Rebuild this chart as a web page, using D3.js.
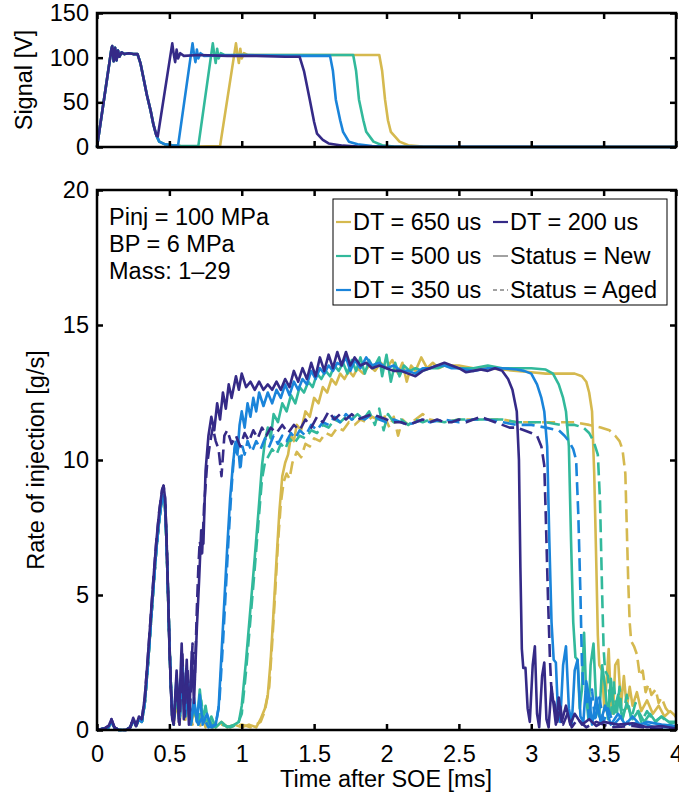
<!DOCTYPE html>
<html>
<head>
<meta charset="utf-8">
<script src="https://cdnjs.cloudflare.com/ajax/libs/d3/7.8.5/d3.min.js"></script>
<style>
body { margin: 0; background: #fff; }
text { font-family: "Liberation Sans", Arial, Helvetica, sans-serif; }
</style>
</head>
<body>
<svg width="679" height="799"></svg>
<script>
// legend / series categories
var dtLabels = ["DT = 650 us", "DT = 500 us", "DT = 350 us", "DT = 200 us"];
var statusLabels = ["Status = New", "Status = Aged"];
var notes = ["Pinj = 100 MPa", "BP = 6 MPa", "Mass: 1\u201329"];

var xTicks = [0, 0.5, 1, 1.5, 2, 2.5, 3, 3.5, 4];
var sigTicks = [0, 50, 100, 150];
var rateTicks = [0, 5, 10, 15, 20];

// top panel: injector signal [V], [t in ms, value]
var sigPilot = [[0,0],[0.1,110],[0.105,113],[0.115,96],[0.125,111],[0.135,97],[0.145,108],[0.155,101],[0.17,106],[0.19,104],[0.22,105],[0.25,104],[0.28,104],[0.3,94],[0.32,78],[0.345,58],[0.37,41],[0.39,25],[0.41,13]];
var sig650 = [[0.43,6],[0.47,3],[0.52,2],[0.58,1],[0.70,0.5],[0.85,1],[0.96,116],[0.97,104],[0.98,94],[0.99,110],[1.0,99],[1.015,105],[1.04,103],[1.4,103],[1.7,103],[1.95,103],[1.97,85],[1.99,53],[2.01,30],[2.03,17],[2.09,6],[2.15,2],[2.25,0.5],[2.4,0],[4,0]];
var sig500 = [[0.43,6],[0.47,3],[0.52,2],[0.58,1],[0.70,1],[0.80,116],[0.81,104],[0.82,94],[0.83,110],[0.84,99],[0.855,105],[0.88,103],[1.2,103],[1.5,103],[1.77,103],[1.79,85],[1.81,53],[1.84,30],[1.86,17],[1.91,6],[1.97,2],[2.05,0.5],[2.2,0],[4,0]];
var sig350 = [[0.43,6],[0.47,3],[0.52,2],[0.56,1.5],[0.66,116],[0.67,104],[0.68,95],[0.69,109],[0.7,99],[0.715,105],[0.74,102],[1.0,103],[1.3,102],[1.61,102],[1.63,85],[1.65,53],[1.68,30],[1.7,17],[1.74,6],[1.8,3],[1.9,1],[2.0,0.3],[4,0]];
var sig200 = [[0.42,12],[0.52,116],[0.53,104],[0.54,95],[0.55,109],[0.56,99],[0.575,105],[0.6,102],[0.7,103],[0.9,102],[1.1,102],[1.3,101],[1.4,101],[1.43,85],[1.47,53],[1.5,28],[1.52,15],[1.56,8],[1.6,4],[1.7,1.5],[1.8,0.5],[2,0],[4,0]];

// bottom panel: rate of injection [g/s], pilot part first
var pilotA = [[0,0],[0.05,0.05],[0.08,0.15],[0.1,0.4],[0.12,0.1],[0.15,0],[0.2,0],[0.23,0.1],[0.25,0.45],[0.27,0.15],[0.29,0.5],[0.31,0.4],[0.33,1.2],[0.35,2.6],[0.37,4.1],[0.39,5.6],[0.41,7.0],[0.43,8.1],[0.45,8.9],[0.46,9.05],[0.47,8.6],[0.48,7.2],[0.49,5.3],[0.5,3.2],[0.51,1.6],[0.52,0.4]];
var pilotB = [[0,0],[0.05,0.05],[0.08,0.1],[0.1,0.3],[0.12,0.1],[0.15,0],[0.2,0],[0.23,0.1],[0.25,0.35],[0.27,0.15],[0.29,0.4],[0.31,0.3],[0.33,1.0],[0.35,2.3],[0.37,3.8],[0.39,5.3],[0.41,6.7],[0.43,7.8],[0.45,8.6],[0.46,8.7],[0.47,8.3],[0.48,7.0],[0.49,5.2],[0.5,3.3],[0.51,1.7],[0.52,0.5]];

var rate650New = [[0.53,0.2],[0.55,1.3],[0.57,0.3],[0.59,1.8],[0.61,0.4],[0.63,1.1],[0.65,0.2],[0.67,0.7],[0.7,0.2],[0.72,0.6],[0.75,0.1],[0.78,0.3],[0.82,0.1],[0.86,0.3],[0.9,0.1],[0.95,0.2],[1.0,0.1],[1.05,0.2],[1.1,0.1],[1.13,0.4],[1.16,0.8],[1.18,1.3],[1.2,2.6],[1.22,4.4],[1.24,6.3],[1.26,8.1],[1.28,9.4],[1.3,9.9],[1.32,10.2],[1.34,10.9],[1.36,10.7],[1.38,11.3],[1.41,11.1],[1.44,11.8],[1.47,11.6],[1.5,12.3],[1.53,12.1],[1.56,12.7],[1.59,12.5],[1.62,13.0],[1.65,12.8],[1.68,13.2],[1.71,13.0],[1.74,13.3],[1.77,13.1],[1.8,13.4],[1.84,13.2],[1.88,13.5],[1.92,13.3],[1.96,13.6],[2.0,13.4],[2.04,13.7],[2.08,13.2],[2.11,13.6],[2.14,12.9],[2.17,13.5],[2.2,13.3],[2.24,13.8],[2.28,13.4],[2.32,13.6],[2.36,13.4],[2.4,13.5],[2.45,13.5],[2.5,13.5],[2.6,13.4],[2.7,13.4],[2.8,13.35],[2.9,13.3],[3.0,13.25],[3.1,13.2],[3.2,13.2],[3.3,13.2],[3.35,13.1],[3.38,12.9],[3.4,12.5],[3.42,11.8],[3.435,9.5],[3.45,6],[3.46,3.5],[3.47,2.4],[3.49,2.2],[3.505,0.7],[3.52,1.8],[3.535,3.0],[3.55,1.0],[3.565,0.6],[3.58,2.4],[3.6,2.6],[3.62,0.9],[3.64,2.0],[3.66,0.8],[3.68,1.6],[3.7,0.9],[3.73,1.4],[3.76,0.7],[3.8,1.1],[3.84,0.6],[3.88,0.9],[3.92,0.5],[3.96,0.7],[4.0,0.5]];
var rate650Aged = [[0.53,0.2],[0.55,1.1],[0.57,0.2],[0.59,1.5],[0.61,0.3],[0.63,0.9],[0.66,0.2],[0.69,0.5],[0.72,0.1],[0.76,0.3],[0.8,0.1],[0.86,0.2],[0.92,0.1],[1.0,0.2],[1.06,0.1],[1.1,0.2],[1.13,0.3],[1.16,0.7],[1.19,1.6],[1.21,3.2],[1.23,5.0],[1.25,6.9],[1.27,8.4],[1.29,9.2],[1.31,9.5],[1.33,9.3],[1.35,9.9],[1.38,10.3],[1.41,10.1],[1.44,10.6],[1.47,10.5],[1.5,10.8],[1.54,10.7],[1.58,11.0],[1.62,10.9],[1.66,11.2],[1.7,11.1],[1.74,11.4],[1.78,11.3],[1.82,11.5],[1.86,11.4],[1.9,11.6],[1.94,11.5],[1.98,11.7],[2.02,11.2],[2.05,11.6],[2.08,10.9],[2.11,11.5],[2.15,11.3],[2.2,11.5],[2.25,11.7],[2.3,11.5],[2.4,11.4],[2.5,11.5],[2.6,11.5],[2.7,11.5],[2.8,11.5],[2.9,11.4],[3.0,11.4],[3.1,11.4],[3.2,11.4],[3.3,11.4],[3.4,11.3],[3.48,11.2],[3.54,11.1],[3.58,10.9],[3.61,10.7],[3.63,10.4],[3.65,9.5],[3.66,7.5],[3.67,5.5],[3.68,4.0],[3.69,3.3],[3.71,3.1],[3.73,2.8],[3.75,2.0],[3.77,2.2],[3.79,1.4],[3.81,1.7],[3.83,1.3],[3.86,1.5],[3.88,1.0],[3.9,1.2],[3.93,0.8],[3.96,0.6],[4.0,0.5]];

var rate500New = [[0.53,0.3],[0.55,1.6],[0.57,0.3],[0.59,2.2],[0.61,0.6],[0.63,1.4],[0.65,0.3],[0.67,1.0],[0.69,0.3],[0.71,1.5],[0.73,0.4],[0.75,0.9],[0.77,0.2],[0.79,0.5],[0.82,0.1],[0.86,0.3],[0.9,0.1],[0.95,0.2],[0.98,0.3],[1.0,0.9],[1.03,2.6],[1.06,4.5],[1.09,6.4],[1.12,8.4],[1.14,9.8],[1.16,10.7],[1.18,11.2],[1.2,10.8],[1.22,11.7],[1.25,11.4],[1.28,12.1],[1.31,11.8],[1.34,12.4],[1.37,12.1],[1.4,12.7],[1.43,12.5],[1.46,12.9],[1.49,12.7],[1.52,13.2],[1.55,13.0],[1.58,13.3],[1.61,13.1],[1.64,13.5],[1.67,13.3],[1.7,13.6],[1.73,13.2],[1.76,13.7],[1.79,13.3],[1.82,13.8],[1.85,13.2],[1.88,13.7],[1.91,13.4],[1.95,13.8],[1.97,13.1],[2.0,13.9],[2.03,12.9],[2.06,13.6],[2.09,13.1],[2.12,13.5],[2.16,13.3],[2.2,13.4],[2.25,13.3],[2.3,13.4],[2.35,13.4],[2.4,13.5],[2.5,13.4],[2.6,13.4],[2.7,13.5],[2.8,13.4],[2.9,13.4],[3.0,13.4],[3.1,13.35],[3.15,13.2],[3.19,12.8],[3.22,12.3],[3.24,11.8],[3.26,10.5],[3.275,7],[3.29,4],[3.305,2.7],[3.32,2.6],[3.335,0.8],[3.35,1.5],[3.365,3.6],[3.38,1.2],[3.395,0.4],[3.41,2.4],[3.43,3.2],[3.45,0.8],[3.47,0.5],[3.49,2.4],[3.51,1.6],[3.53,0.4],[3.55,1.9],[3.57,0.6],[3.6,1.3],[3.63,0.4],[3.66,1.0],[3.7,0.4],[3.74,0.7],[3.78,0.3],[3.82,0.6],[3.86,0.3],[3.9,0.5],[3.95,0.3],[4.0,0.3]];
var rate500Aged = [[0.53,0.2],[0.55,1.4],[0.57,0.3],[0.59,1.9],[0.61,0.5],[0.63,1.2],[0.65,0.3],[0.67,0.8],[0.7,0.2],[0.72,1.1],[0.74,0.3],[0.77,0.5],[0.8,0.1],[0.86,0.2],[0.92,0.1],[0.97,0.2],[1.0,0.6],[1.03,2.2],[1.06,4.1],[1.09,6.0],[1.12,8.0],[1.14,9.3],[1.16,9.9],[1.18,10.1],[1.21,10.4],[1.24,10.2],[1.27,10.6],[1.3,10.4],[1.33,10.8],[1.36,10.6],[1.4,10.9],[1.44,10.8],[1.48,11.1],[1.52,11.0],[1.56,11.3],[1.6,11.2],[1.64,11.5],[1.68,11.4],[1.72,11.6],[1.76,11.5],[1.8,11.7],[1.84,11.5],[1.88,11.8],[1.92,11.3],[1.95,11.9],[1.98,11.1],[2.01,11.7],[2.05,11.4],[2.1,11.5],[2.15,11.3],[2.2,11.5],[2.25,11.4],[2.3,11.5],[2.4,11.4],[2.5,11.5],[2.6,11.5],[2.7,11.5],[2.8,11.5],[2.9,11.4],[3.0,11.4],[3.1,11.4],[3.2,11.3],[3.3,11.3],[3.36,11.2],[3.4,11.0],[3.43,10.7],[3.46,10.2],[3.475,8.5],[3.49,5],[3.5,3],[3.51,2.2],[3.53,2.0],[3.55,0.6],[3.57,1.8],[3.59,0.5],[3.61,1.6],[3.63,0.4],[3.66,1.3],[3.69,0.4],[3.72,1.0],[3.76,0.3],[3.8,0.7],[3.85,0.3],[3.9,0.5],[3.95,0.2],[4.0,0.3]];

var rate350New = [[0.53,0.3],[0.55,2.0],[0.57,0.4],[0.59,2.6],[0.61,0.5],[0.63,1.8],[0.65,0.2],[0.67,1.2],[0.69,0.3],[0.71,1.3],[0.73,0.2],[0.76,0.6],[0.79,0.1],[0.82,0.2],[0.84,0.8],[0.86,2.8],[0.88,4.8],[0.9,6.8],[0.92,8.6],[0.94,9.9],[0.955,10.6],[0.97,10.2],[0.985,11.3],[1.0,11.8],[1.02,11.2],[1.04,12.1],[1.06,11.6],[1.08,12.3],[1.1,11.8],[1.12,12.5],[1.15,12.0],[1.18,12.5],[1.21,12.1],[1.24,12.6],[1.27,12.3],[1.3,12.8],[1.33,12.4],[1.36,12.9],[1.39,12.6],[1.42,13.0],[1.45,12.8],[1.48,13.3],[1.51,13.0],[1.54,13.4],[1.57,13.2],[1.6,13.5],[1.63,13.3],[1.66,13.6],[1.69,13.5],[1.72,13.8],[1.75,13.3],[1.78,13.7],[1.82,13.4],[1.86,13.8],[1.9,13.5],[1.95,13.6],[2.0,13.4],[2.05,13.5],[2.1,13.3],[2.15,13.3],[2.2,13.2],[2.25,13.4],[2.3,13.4],[2.35,13.5],[2.4,13.5],[2.45,13.4],[2.5,13.4],[2.6,13.3],[2.7,13.4],[2.8,13.4],[2.9,13.35],[2.95,13.3],[3.0,13.2],[3.04,12.8],[3.07,12.3],[3.09,11.8],[3.11,10.5],[3.125,7],[3.14,4],[3.155,2.6],[3.17,2.5],[3.185,0.6],[3.2,0.3],[3.22,2.4],[3.24,3.1],[3.26,0.8],[3.28,0.2],[3.3,2.2],[3.32,2.6],[3.34,0.5],[3.36,0.3],[3.38,1.8],[3.4,1.2],[3.42,0.2],[3.45,1.2],[3.48,0.3],[3.51,0.9],[3.55,0.2],[3.6,0.6],[3.65,0.2],[3.7,0.5],[3.75,0.2],[3.8,0.3],[3.9,0.2],[4.0,0.15]];
var rate350Aged = [[0.53,0.2],[0.55,1.7],[0.57,0.3],[0.59,2.3],[0.61,0.6],[0.63,1.5],[0.65,0.3],[0.67,1.0],[0.7,0.2],[0.73,0.5],[0.77,0.1],[0.82,0.2],[0.845,1.0],[0.87,3.2],[0.89,5.2],[0.91,7.2],[0.93,9.0],[0.95,10.4],[0.965,10.9],[0.98,10.2],[0.99,9.6],[1.005,10.5],[1.02,10.2],[1.04,10.7],[1.07,10.3],[1.1,10.7],[1.13,10.4],[1.16,10.8],[1.19,10.5],[1.22,10.9],[1.25,10.6],[1.28,10.9],[1.31,10.7],[1.34,11.0],[1.37,10.8],[1.4,11.1],[1.44,10.9],[1.48,11.3],[1.52,11.1],[1.56,11.4],[1.6,11.3],[1.64,11.6],[1.68,11.4],[1.72,11.7],[1.76,11.5],[1.8,11.6],[1.85,11.5],[1.9,11.7],[1.95,11.5],[2.0,11.4],[2.05,11.5],[2.1,11.4],[2.15,11.3],[2.2,11.4],[2.25,11.5],[2.3,11.4],[2.4,11.5],[2.5,11.4],[2.6,11.5],[2.7,11.5],[2.8,11.4],[2.9,11.3],[3.0,11.3],[3.1,11.2],[3.19,11.1],[3.23,10.9],[3.26,10.7],[3.29,10.4],[3.31,10.0],[3.325,8],[3.34,5],[3.35,2.5],[3.36,1.6],[3.38,1.4],[3.4,0.4],[3.42,1.5],[3.44,0.3],[3.47,1.2],[3.5,0.3],[3.53,0.8],[3.57,0.2],[3.62,0.5],[3.68,0.2],[3.75,0.3],[3.85,0.1],[4.0,0.1]];

var rate200New = [[0.53,0.2],[0.55,2.2],[0.565,0.3],[0.585,3.2],[0.6,0.4],[0.62,2.6],[0.635,0.2],[0.655,2.9],[0.67,1.0],[0.69,3.8],[0.705,5.5],[0.72,7.4],[0.735,6.9],[0.75,9.6],[0.77,10.9],[0.79,11.6],[0.81,11.1],[0.83,12.1],[0.85,11.5],[0.87,12.5],[0.89,11.9],[0.91,12.8],[0.93,12.3],[0.96,13.1],[0.98,12.6],[1.0,13.2],[1.03,12.7],[1.06,12.9],[1.09,12.6],[1.12,12.9],[1.15,12.6],[1.18,12.8],[1.21,12.6],[1.24,12.9],[1.27,12.6],[1.3,13.0],[1.33,12.7],[1.36,13.3],[1.39,12.9],[1.42,13.4],[1.45,13.0],[1.48,13.6],[1.51,13.1],[1.54,13.8],[1.57,13.3],[1.6,13.9],[1.63,13.4],[1.66,14.0],[1.69,13.5],[1.72,14.0],[1.75,13.5],[1.78,13.8],[1.82,13.5],[1.86,13.6],[1.9,13.4],[1.95,13.5],[2.0,13.4],[2.05,13.3],[2.1,13.3],[2.15,13.2],[2.2,13.1],[2.25,13.3],[2.3,13.4],[2.35,13.5],[2.4,13.6],[2.45,13.5],[2.5,13.4],[2.55,13.25],[2.6,13.3],[2.65,13.35],[2.7,13.3],[2.75,13.4],[2.8,13.3],[2.84,13.0],[2.87,12.6],[2.9,11.8],[2.915,10],[2.925,6],[2.935,3],[2.945,2.3],[2.96,2.3],[2.975,0.8],[2.99,0.3],[3.01,2.4],[3.025,3.1],[3.04,0.6],[3.055,0.1],[3.075,2.0],[3.09,2.5],[3.105,0.4],[3.12,0.1],[3.14,1.6],[3.155,0.9],[3.17,0.2],[3.19,1.2],[3.21,0.3],[3.24,0.9],[3.27,0.2],[3.3,0.6],[3.35,0.2],[3.4,0.4],[3.45,0.15],[3.5,0.3],[3.6,0.2],[3.7,0.25],[3.8,0.1],[3.9,0.15],[4.0,0.05]];
var rate200Aged = [[0.53,0.3],[0.55,1.8],[0.57,0.2],[0.59,2.8],[0.605,0.5],[0.625,2.3],[0.64,0.4],[0.66,3.2],[0.675,1.8],[0.69,4.5],[0.7,6.0],[0.71,7.0],[0.725,6.4],[0.74,8.3],[0.76,9.8],[0.78,10.6],[0.8,11.2],[0.82,10.7],[0.84,10.4],[0.86,9.4],[0.88,10.9],[0.9,11.1],[0.93,10.6],[0.96,10.9],[0.99,10.5],[1.02,11.0],[1.05,10.7],[1.08,11.1],[1.11,10.8],[1.14,11.2],[1.17,10.9],[1.2,11.2],[1.24,11.0],[1.28,11.3],[1.32,11.0],[1.36,11.3],[1.4,11.1],[1.44,11.5],[1.48,11.2],[1.52,11.6],[1.56,11.4],[1.6,11.8],[1.64,11.5],[1.68,11.7],[1.72,11.5],[1.76,11.7],[1.8,11.5],[1.85,11.6],[1.9,11.7],[1.95,11.6],[2.0,11.5],[2.05,11.4],[2.1,11.4],[2.15,11.3],[2.2,11.4],[2.25,11.5],[2.3,11.4],[2.35,11.5],[2.4,11.4],[2.45,11.4],[2.5,11.5],[2.55,11.4],[2.6,11.5],[2.65,11.6],[2.7,11.5],[2.75,11.4],[2.8,11.3],[2.85,11.2],[2.9,11.2],[2.95,11.1],[3.0,11.0],[3.04,10.9],[3.07,10.5],[3.09,9.8],[3.1,8],[3.115,5],[3.13,2.5],[3.14,1.4],[3.16,1.0],[3.18,0.3],[3.2,0.9],[3.22,0.2],[3.25,0.6],[3.28,0.1],[3.32,0.4],[3.38,0.1],[3.45,0.3],[3.55,0.1],[3.7,0.15],[3.85,0.05],[4.0,0.05]];

var colors = ["#d5b94f", "#32b99b", "#1a84da", "#352a87"]; // 650, 500, 350, 200

var svg = d3.select("svg");

var x = d3.scaleLinear().domain([0, 4]).range([97, 676]);
var yTop = d3.scaleLinear().domain([0, 150]).range([147, 13]);
var yBot = d3.scaleLinear().domain([0, 20]).range([730, 190]);

var fontSize = 23.5;
var lw = 2.6;
var dashed = "13,6";

var sigLine = d3.line().x(function(d) { return x(d[0]); }).y(function(d) { return yTop(d[1]); });
var rateLine = d3.line().x(function(d) { return x(d[0]); }).y(function(d) { return yBot(d[1]); });

// series tables built from the arrays above
var sigSeries = [
    {color: colors[0], pts: sigPilot.concat(sig650)},
    {color: colors[1], pts: sigPilot.concat(sig500)},
    {color: colors[2], pts: sigPilot.concat(sig350)},
    {color: colors[3], pts: sigPilot.concat(sig200)}
];
var rateSeries = [
    {color: colors[0], dash: null, pts: pilotB.concat(rate650New)},
    {color: colors[0], dash: dashed, pts: pilotB.concat(rate650Aged)},
    {color: colors[1], dash: null, pts: pilotB.concat(rate500New)},
    {color: colors[1], dash: dashed, pts: pilotB.concat(rate500Aged)},
    {color: colors[2], dash: null, pts: pilotB.concat(rate350New)},
    {color: colors[2], dash: dashed, pts: pilotB.concat(rate350Aged)},
    {color: colors[3], dash: null, pts: pilotA.concat(rate200New)},
    {color: colors[3], dash: dashed, pts: pilotA.concat(rate200Aged)}
];

// draw one axes box with inward ticks on all four sides
function drawAxes(y, yT, showX) {
    var g = svg.append("g");
    var x0 = x.range()[0], x1 = x.range()[1];
    var yb = y.range()[0], yt = y.range()[1];

    g.append("g").attr("transform", "translate(0," + yb + ")")
        .call(d3.axisBottom(x).tickValues(xTicks).tickSize(-6).tickPadding(15)
            .tickFormat(function(d) { return showX ? d : ""; }));
    g.append("g").attr("transform", "translate(0," + yt + ")")
        .call(d3.axisTop(x).tickValues(xTicks).tickSize(-6).tickFormat(""));
    g.append("g").attr("transform", "translate(" + x0 + ",0)")
        .call(d3.axisLeft(y).tickValues(yT).tickSize(-6).tickPadding(8));
    g.append("g").attr("transform", "translate(" + x1 + ",0)")
        .call(d3.axisRight(y).tickValues(yT).tickSize(-6).tickFormat(""));

    g.selectAll(".domain").remove();
    g.selectAll(".tick line").attr("stroke", "#000").attr("stroke-width", 2.5);
    g.selectAll(".tick text").attr("font-size", fontSize).attr("fill", "#000")
        .attr("font-family", "Liberation Sans, Arial, sans-serif");

    g.append("rect")
        .attr("x", x0).attr("y", yt)
        .attr("width", x1 - x0).attr("height", yb - yt)
        .attr("fill", "none").attr("stroke", "#000").attr("stroke-width", 2.5);
    return g;
}

// top panel lines
svg.append("g").selectAll("path")
    .data(sigSeries)
    .enter().append("path")
    .attr("d", function(d) { return sigLine(d.pts); })
    .attr("fill", "none")
    .attr("stroke", function(d) { return d.color; })
    .attr("stroke-width", lw)
    .attr("stroke-linejoin", "round");

// bottom panel lines
svg.append("g").selectAll("path")
    .data(rateSeries)
    .enter().append("path")
    .attr("d", function(d) { return rateLine(d.pts); })
    .attr("fill", "none")
    .attr("stroke", function(d) { return d.color; })
    .attr("stroke-dasharray", function(d) { return d.dash; })
    .attr("stroke-width", lw)
    .attr("stroke-linejoin", "round");

drawAxes(yTop, sigTicks, false);
drawAxes(yBot, rateTicks, true);

// axis labels
svg.append("text")
    .attr("transform", "translate(32,80) rotate(-90)")
    .attr("text-anchor", "middle")
    .attr("font-size", fontSize)
    .text("Signal [V]");
svg.append("text")
    .attr("transform", "translate(44,460) rotate(-90)")
    .attr("text-anchor", "middle")
    .attr("font-size", fontSize)
    .text("Rate of injection [g/s]");
svg.append("text")
    .attr("x", 386).attr("y", 787)
    .attr("text-anchor", "middle")
    .attr("font-size", fontSize)
    .text("Time after SOE [ms]");

// annotation
svg.append("g").selectAll("text")
    .data(notes)
    .enter().append("text")
    .attr("x", 109)
    .attr("y", function(d, i) { return 225 + i * 27; })
    .attr("font-size", fontSize)
    .text(function(d) { return d; });

// legend, column-major like matlab
var legend = svg.append("g");
legend.append("rect")
    .attr("x", 333).attr("y", 199)
    .attr("width", 334).attr("height", 106)
    .attr("fill", "#fff").attr("stroke", "#000").attr("stroke-width", 1);

var legItems = dtLabels.map(function(l, i) {
    return {label: l, color: colors[i], width: 2.2, dash: null};
}).concat(statusLabels.map(function(l, i) {
    return {label: l, color: "#444", width: 1, dash: i == 1 ? "4,3" : null};
}));
var rowY = [230, 264, 298];

legend.selectAll("g.item")
    .data(legItems)
    .enter().append("g")
    .attr("class", "item")
    .attr("transform", function(d, i) {
        var col = Math.floor(i / 3), row = i % 3;
        return "translate(" + (col == 0 ? 336 : 493) + "," + rowY[row] + ")";
    })
    .each(function(d) {
        var it = d3.select(this);
        it.append("line")
            .attr("x1", 0).attr("x2", 15)
            .attr("y1", -8).attr("y2", -8)
            .attr("stroke", d.color)
            .attr("stroke-width", d.width)
            .attr("stroke-dasharray", d.dash);
        it.append("text")
            .attr("x", 17)
            .attr("font-size", fontSize)
            .text(d.label);
    });
</script>
</body>
</html>
